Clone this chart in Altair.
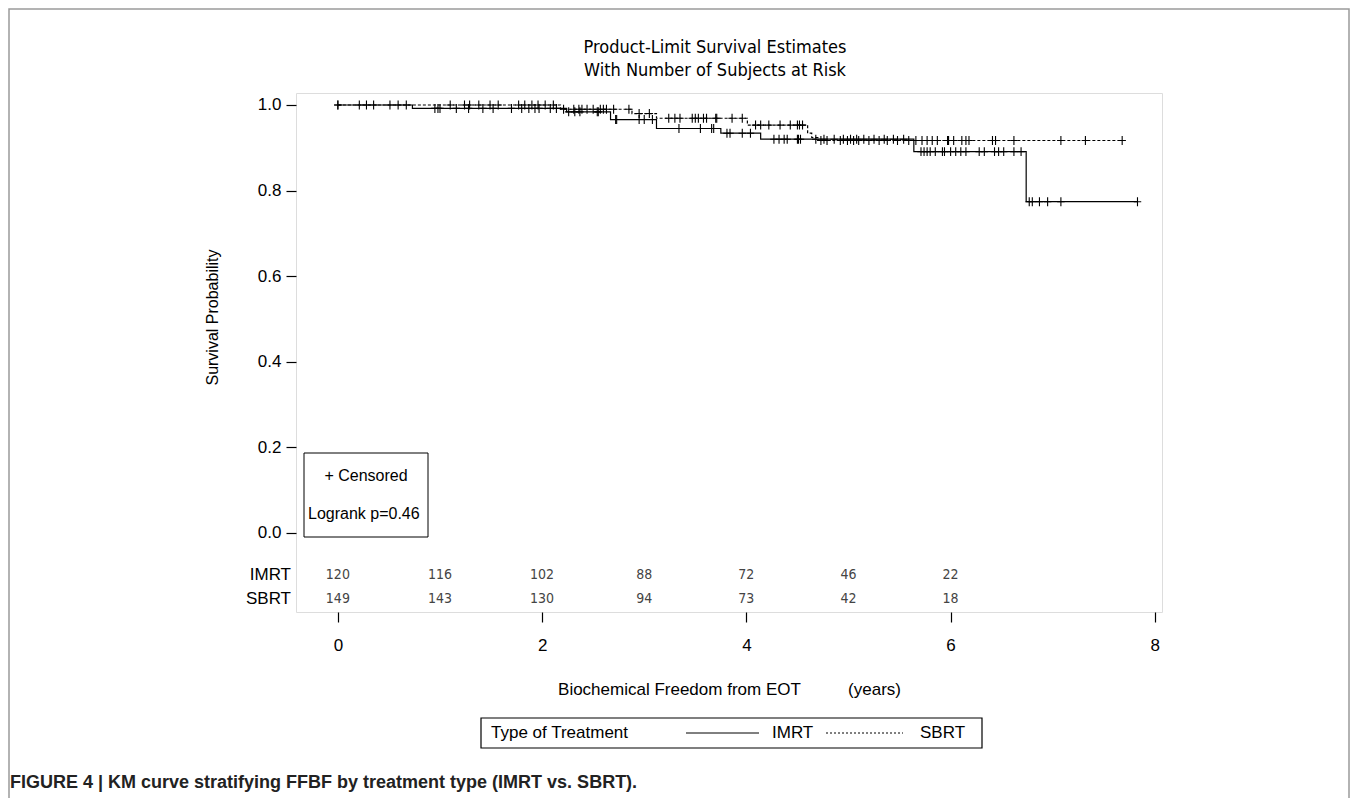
import altair as alt
import pandas as pd

# ---------------- data ----------------
imrt_event_t = [0.73, 2.24, 2.67, 3.12, 3.75, 4.14, 5.64, 6.74]
imrt_event_s = [0.992, 0.984, 0.966, 0.945, 0.934, 0.920, 0.891, 0.774]
imrt_last_t = 7.83

sbrt_event_t = [2.18, 2.88, 3.12, 4.01, 4.60, 4.64, 4.70]
sbrt_event_s = [0.990, 0.980, 0.969, 0.953, 0.934, 0.924, 0.917]
sbrt_last_t = 7.68

imrt_censor_t = [0.0, 0.21, 0.35, 0.59, 0.95, 0.98, 1.0, 1.16, 1.28, 1.42, 1.52, 1.70, 1.80,
                 1.87, 1.93, 1.97, 2.08, 2.14, 2.26, 2.32, 2.37, 2.54, 2.55, 2.72, 2.73, 2.95,
                 3.0, 3.08, 3.34, 3.55, 3.66, 3.68, 3.81, 3.84, 3.96, 4.04, 4.27, 4.32, 4.37,
                 4.40, 4.50, 4.51, 4.53, 4.68, 4.76, 4.86, 4.95, 5.02, 5.08, 5.15, 5.25, 5.35,
                 5.44, 5.54, 5.71, 5.74, 5.77, 5.80, 5.85, 5.92, 5.94, 6.0, 6.05, 6.10, 6.15,
                 6.28, 6.33, 6.43, 6.47, 6.52, 6.62, 6.69, 6.77, 6.80, 6.87, 6.95, 7.08, 7.83]
sbrt_censor_t = [0.0, 0.28, 0.51, 0.67, 1.1, 1.24, 1.29, 1.38, 1.49, 1.57, 1.77, 1.83, 1.90,
                 1.96, 2.03, 2.11, 2.21, 2.31, 2.36, 2.39, 2.44, 2.50, 2.57, 2.60, 2.63, 2.70,
                 2.85, 2.95, 3.05, 3.24, 3.30, 3.35, 3.47, 3.50, 3.53, 3.58, 3.61, 3.70, 3.71,
                 3.86, 3.96, 4.09, 4.14, 4.22, 4.33, 4.43, 4.50, 4.52, 4.55, 4.73, 4.79, 4.92,
                 4.99, 5.05, 5.10, 5.20, 5.30, 5.38, 5.48, 5.59, 5.66, 5.72, 5.77, 5.82, 5.87,
                 5.97, 5.98, 6.03, 6.11, 6.15, 6.18, 6.41, 6.44, 6.62, 7.08, 7.32, 7.68]

risk_t = [0, 1, 2, 3, 4, 5, 6]
risk_imrt = [120, 116, 102, 88, 72, 46, 22]
risk_sbrt = [149, 143, 130, 94, 73, 42, 18]

x_ticks = [0, 2, 4, 6, 8]
y_ticks = [0.0, 0.2, 0.4, 0.6, 0.8, 1.0]
groups = ["IMRT", "SBRT"]
title_lines = ["Product-Limit Survival Estimates", "With Number of Subjects at Risk"]

# ---------------- tables built from the arrays ----------------
def step_rows(group, ev_t, ev_s, last_t):
    rows = [{"time": 0.0, "surv": 1.0, "group": group}]
    for t, s in zip(ev_t, ev_s):
        rows.append({"time": t, "surv": s, "group": group})
    rows.append({"time": last_t, "surv": ev_s[-1], "group": group})
    return rows

def surv_at(t, ev_t, ev_s):
    s = 1.0
    for te, se in zip(ev_t, ev_s):
        if te <= t:
            s = se
    return s

lines_df = pd.DataFrame(step_rows("IMRT", imrt_event_t, imrt_event_s, imrt_last_t)
                        + step_rows("SBRT", sbrt_event_t, sbrt_event_s, sbrt_last_t))
cens_df = pd.DataFrame(
    [{"time": t, "surv": surv_at(t, imrt_event_t, imrt_event_s), "group": "IMRT"} for t in imrt_censor_t]
    + [{"time": t, "surv": surv_at(t, sbrt_event_t, sbrt_event_s), "group": "SBRT"} for t in sbrt_censor_t])
risk_imrt_df = pd.DataFrame({"time": risk_t, "n": risk_imrt})
risk_sbrt_df = pd.DataFrame({"time": risk_t, "n": risk_sbrt})
one = pd.DataFrame({"k": [0]})

# ---------------- styling ----------------
NARROW = "Liberation Sans Narrow, Arial Narrow, DejaVu Sans Condensed, sans-serif"
SANS = "Liberation Sans, Arial, sans-serif"
W, H = 866, 519
XDOM = [-0.41, 8.07]
YDOM = [-0.185, 1.028]

X = alt.X("time:Q", scale=alt.Scale(domain=XDOM, nice=False, zero=False),
          axis=alt.Axis(values=x_ticks, format="d", grid=False, domain=False,
                        tickColor="black", tickSize=10, tickWidth=1.2,
                        labelFont=SANS, labelFontSize=17, labelColor="black", labelPadding=15,
                        title="Biochemical Freedom from EOT\u00a0\u00a0\u00a0\u00a0\u00a0\u00a0\u00a0\u00a0\u00a0\u00a0(years)",
                        titleFont=SANS, titleFontSize=17, titleFontWeight="normal",
                        titleColor="black", titlePadding=28))
Y = alt.Y("surv:Q", scale=alt.Scale(domain=YDOM, nice=False, zero=False),
          axis=alt.Axis(values=y_ticks, format=".1f", grid=False, domain=False,
                        tickColor="black", tickSize=10, tickWidth=1.2,
                        labelFont=SANS, labelFontSize=17, labelColor="black", labelPadding=5,
                        title="Survival Probability", titleFont=SANS, titleFontSize=16,
                        titleFontWeight="normal", titleColor="black",
                        titleX=-84, titleY=224, titleAngle=270, titleAlign="center",
                        titleBaseline="middle"))

lines = alt.Chart(lines_df).mark_line(interpolate="step-after", color="black", strokeWidth=1.2).encode(
    x=X, y=Y,
    strokeDash=alt.StrokeDash("group:N", scale=alt.Scale(domain=groups, range=[[1, 0], [3, 2]]), legend=None),
    detail="group:N")

cens = alt.Chart(cens_df).mark_point(shape="M-1,0L1,0M0,-1.2L0,1.2", size=56, color="black",
                                     filled=False, strokeWidth=1.1, opacity=1).encode(x=X, y=Y)

risk1 = alt.Chart(risk_imrt_df).mark_text(font=NARROW, fontSize=14, color="#444").encode(
    x=X, y=alt.value(482), text="n:Q")
risk2 = alt.Chart(risk_sbrt_df).mark_text(font=NARROW, fontSize=14, color="#444").encode(
    x=X, y=alt.value(506), text="n:Q")

row_lab1 = alt.Chart(one).mark_text(font=SANS, fontSize=17, align="right", color="black").encode(
    x=alt.value(-5), y=alt.value(482), text=alt.value("IMRT"))
row_lab2 = alt.Chart(one).mark_text(font=SANS, fontSize=17, align="right", color="black").encode(
    x=alt.value(-5), y=alt.value(506), text=alt.value("SBRT"))

# chart title (two lines)
title1 = alt.Chart(one).mark_text(font=NARROW, fontSize=18, color="black").encode(
    x=alt.value(419), y=alt.value(-45), text=alt.value(title_lines[0]))
title2 = alt.Chart(one).mark_text(font=NARROW, fontSize=18, color="black").encode(
    x=alt.value(419), y=alt.value(-22), text=alt.value(title_lines[1]))

# inset box (censored / logrank)
inset_box = alt.Chart(one).mark_rect(fill="white", stroke="black", strokeWidth=1).encode(
    x=alt.value(8), x2=alt.value(132), y=alt.value(360), y2=alt.value(444))
inset_t1 = alt.Chart(one).mark_text(font=SANS, fontSize=16, color="black").encode(
    x=alt.value(70), y=alt.value(383), text=alt.value("+ Censored"))
inset_t2 = alt.Chart(one).mark_text(font=SANS, fontSize=16, color="black", align="left").encode(
    x=alt.value(12), y=alt.value(421), text=alt.value("Logrank p=0.46"))

# bottom legend
leg_box = alt.Chart(one).mark_rect(fill="white", stroke="black", strokeWidth=1.2).encode(
    x=alt.value(185), x2=alt.value(686), y=alt.value(625), y2=alt.value(655))
leg_title = alt.Chart(one).mark_text(font=SANS, fontSize=17, align="left", color="black").encode(
    x=alt.value(195), y=alt.value(640), text=alt.value("Type of Treatment"))
leg_l1 = alt.Chart(one).mark_rule(color="black", strokeWidth=1).encode(
    x=alt.value(390), x2=alt.value(463), y=alt.value(640))
leg_t1 = alt.Chart(one).mark_text(font=SANS, fontSize=17, align="left", color="black").encode(
    x=alt.value(476), y=alt.value(640), text=alt.value("IMRT"))
leg_l2 = alt.Chart(one).mark_rule(color="black", strokeWidth=1, strokeDash=[2, 2]).encode(
    x=alt.value(530), x2=alt.value(607), y=alt.value(640))
leg_t2 = alt.Chart(one).mark_text(font=SANS, fontSize=17, align="left", color="black").encode(
    x=alt.value(624), y=alt.value(640), text=alt.value("SBRT"))

# figure frame and caption
outer = alt.Chart(one).mark_rect(fill=None, stroke="#9a9a9a", strokeWidth=1.5).encode(
    x=alt.value(-287), x2=alt.value(1053), y=alt.value(-84), y2=alt.value(760))
caption = alt.Chart(one).mark_text(font=SANS, fontSize=18, fontWeight="bold", align="left",
                                   color="#222").encode(
    x=alt.value(-286), y=alt.value(690),
    text=alt.value("FIGURE 4 | KM curve stratifying FFBF by treatment type (IMRT vs. SBRT)."))

chart = alt.layer(
    outer, lines, cens, risk1, risk2, row_lab1, row_lab2, title1, title2,
    inset_box, inset_t1, inset_t2,
    leg_box, leg_title, leg_l1, leg_t1, leg_l2, leg_t2, caption
).properties(
    width=W, height=H,
    autosize=alt.AutoSizeParams(type="none"),
    padding={"left": 288, "top": 85, "right": 188, "bottom": 186},
).configure_view(stroke="#333", strokeWidth=1.6).configure(background="white")

chart.save("out.html", embed_options={"renderer": "svg", "actions": False})
